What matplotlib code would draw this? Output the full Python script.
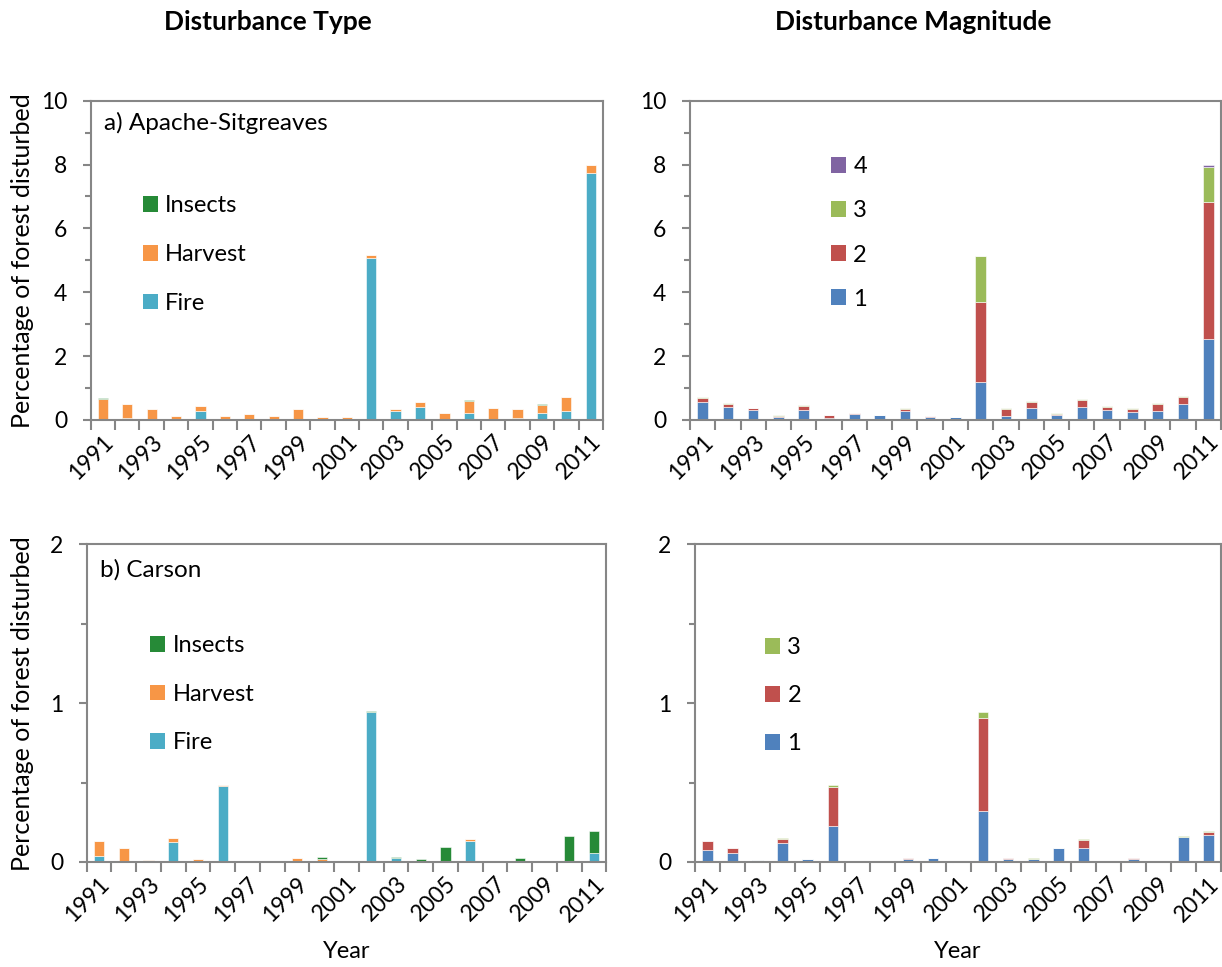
import matplotlib
matplotlib.use("Agg")
import matplotlib.pyplot as plt
from matplotlib.patches import Patch
from matplotlib.ticker import MultipleLocator
import numpy as np

plt.rcParams['font.family'] = ['Lato', 'DejaVu Sans']

years = list(range(1991, 2012))
year_labels = [str(y) if y % 2 == 1 else "" for y in years]

# a) Apache-Sitgreaves, disturbance type (% of forest)
as_fire = [0.02, 0.06, 0.0, 0.02, 0.27, 0.04, 0.0, 0.02, 0.0, 0.03, 0.02,
           5.06, 0.29, 0.41, 0.0, 0.22, 0.02, 0.07, 0.22, 0.29, 7.72]
as_harvest = [0.65, 0.44, 0.35, 0.09, 0.16, 0.09, 0.19, 0.11, 0.33, 0.06, 0.065,
              0.12, 0.06, 0.16, 0.21, 0.38, 0.37, 0.28, 0.26, 0.43, 0.27]
as_insects = [0.01, 0, 0, 0, 0, 0, 0, 0, 0, 0, 0,
              0, 0, 0, 0, 0.04, 0, 0, 0.03, 0.01, 0]

# a) Apache-Sitgreaves, disturbance magnitude
as_m1 = [0.57, 0.40, 0.30, 0.085, 0.31, 0.06, 0.18, 0.15, 0.29, 0.10, 0.085,
         1.19, 0.11, 0.37, 0.15, 0.40, 0.32, 0.26, 0.29, 0.50, 2.53]
as_m2 = [0.11, 0.10, 0.07, 0.045, 0.13, 0.09, 0.03, 0.01, 0.04, 0.01, 0.015,
         2.50, 0.23, 0.20, 0.04, 0.23, 0.08, 0.09, 0.20, 0.21, 4.31]
as_m3 = [0.03, 0.02, 0.02, 0.02, 0.02, 0.01, 0.02, 0, 0.03, 0, 0,
         1.46, 0.02, 0.03, 0.04, 0.02, 0.03, 0.02, 0.03, 0.03, 1.08]
as_m4 = [0, 0, 0, 0, 0, 0, 0, 0, 0, 0, 0,
         0, 0, 0, 0, 0, 0, 0, 0, 0, 0.06]

# b) Carson, disturbance type
ca_fire = [0.036, 0, 0, 0.125, 0, 0.481, 0, 0, 0, 0, 0,
           0.945, 0.025, 0, 0, 0.131, 0, 0, 0, 0, 0.059]
ca_harvest = [0.097, 0.091, 0.015, 0.023, 0.021, 0.002, 0, 0, 0.028, 0.017, 0,
              0, 0, 0, 0, 0.011, 0, 0, 0.008, 0.008, 0]
ca_insects = [0, 0, 0, 0, 0, 0, 0, 0, 0, 0.013, 0,
              0.005, 0.004, 0.021, 0.095, 0, 0, 0.023, 0, 0.157, 0.136]

# b) Carson, disturbance magnitude
ca_m1 = [0.078, 0.055, 0.011, 0.121, 0.019, 0.225, 0, 0, 0.019, 0.023, 0,
         0.32, 0.017, 0.019, 0.091, 0.087, 0, 0.019, 0, 0.159, 0.167]
ca_m2 = [0.055, 0.032, 0.004, 0.023, 0, 0.25, 0, 0, 0.006, 0.005, 0,
         0.584, 0.008, 0, 0, 0.051, 0.002, 0.004, 0.006, 0, 0.022]
ca_m3 = [0, 0.004, 0, 0.004, 0, 0.01, 0, 0, 0, 0, 0,
         0.042, 0, 0.004, 0, 0.004, 0, 0, 0, 0.006, 0.006]

type_names = ["Fire", "Harvest", "Insects"]
type_colors = ["#4BACC6", "#F79646", "#268A37"]
mag_names = ["1", "2", "3", "4"]
mag_colors = ["#4F81BD", "#C0504D", "#9BBB59", "#8064A2"]

GRAY = "#868686"
FS = 16.5      # tick labels
LFS = 17       # legend / axis labels


def stacked(ax, series, names, colors):
    x = np.arange(len(years))
    bottom = np.zeros(len(years))
    for vals, name, col in zip(series, names, colors):
        vals = np.array(vals, dtype=float)
        ax.bar(x, vals, width=0.42, bottom=bottom, color=col,
               edgecolor="white", linewidth=0.4, label=name)
        bottom += vals


def style(ax, ymax, major, minor, xlabel):
    ax.set_xlim(-0.5, len(years) - 0.5)
    ax.set_ylim(0, ymax)
    ax.yaxis.set_major_locator(MultipleLocator(major))
    ax.yaxis.set_minor_locator(MultipleLocator(minor))
    ax.set_xticks(np.arange(len(years)))
    ax.set_xticklabels(year_labels, rotation=45, ha="right", va="top",
                       rotation_mode="anchor", fontsize=FS)
    ax.set_xticks(np.arange(-0.5, len(years), 1), minor=True)
    ax.tick_params(axis="x", which="major", length=0, pad=8)
    ax.tick_params(axis="x", which="minor", length=7, width=1.5,
                   color=GRAY, direction="out")
    ax.tick_params(axis="y", which="major", length=6, width=1.5,
                   color=GRAY, labelsize=FS, pad=11)
    ax.tick_params(axis="y", which="minor", length=4, width=1.5, color=GRAY)
    for s in ax.spines.values():
        s.set_color(GRAY)
        s.set_linewidth(1.5)
    if xlabel:
        ax.set_xlabel("Year", fontsize=LFS)
        ax.xaxis.set_label_coords(0.5, -0.25)


def legend(ax, names, colors, x0, y0, spacing):
    handles = [Patch(facecolor=c, edgecolor="none") for c in colors]
    ax.legend(handles[::-1], names[::-1], loc="upper left",
              bbox_to_anchor=(x0, y0), borderaxespad=0, borderpad=0,
              frameon=False, fontsize=LFS, handlelength=0.65, handleheight=0.65,
              handletextpad=0.3, labelspacing=spacing)


fig = plt.figure(figsize=(12.22, 9.67), dpi=100)
ax_tl = fig.add_axes([0.0742, 0.5657, 0.4192, 0.3302])
ax_tr = fig.add_axes([0.5646, 0.5657, 0.4345, 0.3302])
ax_bl = fig.add_axes([0.0709, 0.1086, 0.4253, 0.3285])
ax_br = fig.add_axes([0.5687, 0.1086, 0.4307, 0.3285])

stacked(ax_tl, [as_fire, as_harvest, as_insects], type_names, type_colors)
stacked(ax_tr, [as_m1, as_m2, as_m3, as_m4], mag_names, mag_colors)
stacked(ax_bl, [ca_fire, ca_harvest, ca_insects], type_names, type_colors)
stacked(ax_br, [ca_m1, ca_m2, ca_m3], mag_names[:3], mag_colors[:3])

style(ax_tl, 10, 2, 1, False)
style(ax_tr, 10, 2, 1, False)
style(ax_bl, 2, 1, 0.5, True)
style(ax_br, 2, 1, 0.5, True)

legend(ax_tl, type_names, type_colors, 0.102, 0.703, 1.17)
legend(ax_tr, mag_names, mag_colors, 0.2655, 0.826, 0.98)
legend(ax_bl, type_names, type_colors, 0.122, 0.714, 1.17)
legend(ax_br, mag_names[:3], mag_colors[:3], 0.133, 0.708, 1.15)

ax_tl.text(0.026, 0.93, "a) Apache-Sitgreaves", transform=ax_tl.transAxes,
           fontsize=17.5, va="center", ha="left")
ax_bl.text(0.026, 0.919, "b) Carson", transform=ax_bl.transAxes,
           fontsize=17.5, va="center", ha="left")

ax_tl.set_ylabel("Percentage of forest disturbed", fontsize=18)
ax_tl.yaxis.set_label_coords(-0.111, 0.5)
ax_bl.set_ylabel("Percentage of forest disturbed", fontsize=18)
ax_bl.yaxis.set_label_coords(-0.101, 0.5)

fig.text(0.219, 0.977, "Disturbance Type", fontsize=19, fontweight="bold",
         ha="center", va="center")
fig.text(0.747, 0.977, "Disturbance Magnitude", fontsize=19, fontweight="bold",
         ha="center", va="center")

fig.savefig("out.png", dpi=100)
